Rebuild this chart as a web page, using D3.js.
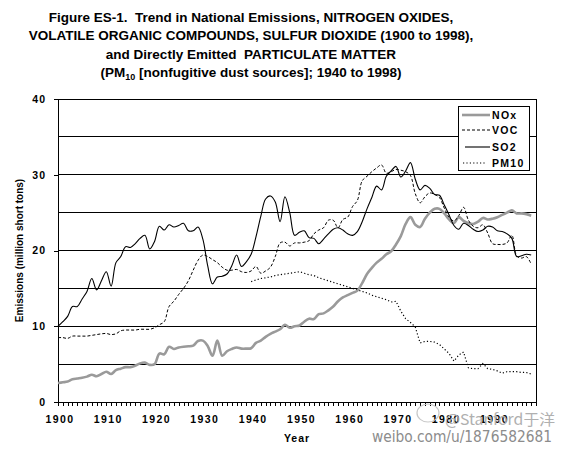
<!DOCTYPE html>
<html><head><meta charset="utf-8">
<script src="https://cdn.jsdelivr.net/npm/d3@7"></script>
<style>body{margin:0;background:#fff} svg{display:block}</style>
</head><body>
<svg id="c" width="564" height="452"></svg>
<script>
// ---- data ----
const years = d3.range(1900, 1999);
const nox = [
 2.5,2.6,2.7,3.0,3.1,3.2,3.35,3.6,3.4,3.7,
 4.0,3.7,4.2,4.4,4.6,4.6,4.8,5.1,5.2,4.9,
 5.0,6.4,6.3,7.3,7.0,7.2,7.3,7.35,7.45,8.05,
 8.1,7.4,6.1,8.1,6.1,6.7,7.0,7.2,7.05,7.05,
 7.1,7.8,8.1,8.6,9.0,9.3,9.6,10.2,9.8,10.0,
 10.1,10.6,11.0,10.95,11.6,11.7,12.1,12.6,13.3,13.8,
 14.1,14.4,14.7,15.7,16.9,17.7,18.4,18.9,19.5,19.9,
 20.8,21.9,23.5,24.4,23.4,23.1,24.2,25.0,25.5,25.5,
 24.9,24.1,23.6,24.4,23.9,23.6,23.5,23.8,24.3,24.1,
 24.2,24.4,24.7,25.0,25.3,24.9,24.9,24.8,24.6];
const voc = [
 8.5,8.5,8.4,8.7,8.7,8.7,8.7,8.8,8.9,9.0,
 9.05,8.9,9.0,9.4,9.5,9.5,9.5,9.6,9.6,9.6,
 9.8,10.2,10.6,12.6,13.3,14.2,15.0,16.0,17.4,18.7,
 19.4,19.2,18.8,18.4,17.8,17.4,17.4,17.5,17.2,17.1,
 17.3,17.9,17.0,17.3,17.8,19.2,21.0,21.1,20.6,21.0,
 21.0,21.1,21.3,22.2,22.7,23.0,24.0,24.0,23.0,24.1,
 24.4,25.8,26.6,29.2,29.8,30.4,30.9,31.3,30.2,30.4,
 30.7,30.6,30.4,29.9,27.5,26.3,27.1,27.6,27.4,27.0,
 25.6,24.4,23.9,24.6,25.7,24.0,23.2,23.0,23.4,22.3,
 20.9,20.8,20.8,21.0,22.0,19.3,19.0,19.2,18.2];
const so2 = [
 10.0,10.6,11.3,12.6,12.6,13.6,14.6,16.3,14.8,16.0,
 17.2,15.3,18.4,19.2,20.5,20.4,20.9,21.6,22.0,20.2,
 21.2,23.2,22.7,23.4,23.1,23.3,23.6,22.6,22.6,23.1,
 21.5,18.0,15.6,16.5,16.6,16.9,18.0,19.4,17.9,18.5,
 19.5,21.8,24.5,26.8,27.2,26.4,23.8,27.1,25.0,22.0,
 22.4,22.6,21.7,21.6,20.9,21.5,22.2,22.8,23.0,22.7,
 22.2,22.0,22.5,23.8,25.5,27.0,28.5,28.0,29.8,30.5,
 31.1,29.7,30.5,31.6,29.4,28.0,28.6,28.2,27.4,27.3,
 26.0,24.7,23.3,22.8,23.6,23.3,22.8,22.5,22.7,23.2,
 23.1,22.6,22.5,22.2,21.6,19.2,19.3,19.5,19.4];
const pmYears = d3.range(1940, 1999);
const pm10 = [
 15.9,16.1,16.3,16.4,16.5,16.7,16.8,16.9,17.0,17.1,
 17.2,17.0,16.8,16.7,16.4,16.2,16.0,15.8,15.6,15.4,
 15.2,15.0,14.8,14.6,14.4,14.1,13.9,13.7,13.5,13.2,
 13.3,12.0,11.0,10.5,9.9,7.8,8.0,8.0,7.9,7.6,
 7.0,6.4,5.4,6.2,6.6,4.5,4.4,4.4,5.1,4.4,
 4.3,4.1,3.8,4.0,4.0,4.0,3.9,3.9,3.7];
const yTickVals = [0,10,20,30,40];
const gridVals = [5,10,15,20,25,30,35];
const xLabelVals = [1900,1910,1920,1930,1940,1950,1960,1970,1980,1990];
const seriesNames = ["NOx","VOC","SO2","PM10"];
const titleLines = [
 "Figure ES-1.\u00A0 Trend in National Emissions, NITROGEN OXIDES,",
 "VOLATILE ORGANIC COMPOUNDS, SULFUR DIOXIDE (1900 to 1998),",
 "and Directly Emitted\u00A0 PARTICULATE MATTER"
];

// ---- drawing ----
const svg = d3.select("#c");
const F = "'Liberation Sans', Arial, sans-serif";
const x = d3.scaleLinear().domain([1900, 1999]).range([58, 536]);
const y = d3.scaleLinear().domain([0, 40]).range([402, 99]);

// title
const tg = svg.append("g").attr("font-family", F).attr("font-weight", "bold")
  .attr("font-size", 13.5).attr("text-anchor", "middle");
titleLines.forEach((t, i) => {
  tg.append("text").attr("x", 251).attr("y", 21.5 + i * 18.5).text(t);
});
const t4 = tg.append("text").attr("x", 251).attr("y", 77);
t4.append("tspan").text("(PM");
t4.append("tspan").attr("font-size", 9).attr("dy", 2.5).text("10");
t4.append("tspan").attr("dy", -2.5).text(" [nonfugitive dust sources]; 1940 to 1998)");

// gridlines
svg.append("g").selectAll("line").data(gridVals).join("line")
  .attr("x1", x(1900)).attr("x2", x(1999))
  .attr("y1", d => y(d)).attr("y2", d => y(d))
  .attr("stroke", "#000").attr("stroke-width", 1).attr("shape-rendering", "crispEdges");

// frame top/right
svg.append("path")
  .attr("d", `M${x(1900)},${y(40)}H${x(1999)}V${y(0)}`)
  .attr("fill", "none").attr("stroke", "#000").attr("shape-rendering", "crispEdges");

// y axis
const yAxis = d3.axisLeft(y).tickValues(yTickVals).tickSize(4).tickPadding(8).tickFormat(d3.format("d"));
const ya = svg.append("g").attr("transform", `translate(${x(1900)},0)`).call(yAxis);
ya.selectAll("path,line").attr("stroke", "#000").attr("shape-rendering", "crispEdges");
ya.selectAll("text").attr("font-family", F).attr("font-weight", "bold").attr("font-size", 10.5)
  .attr("letter-spacing", 1).attr("fill", "#000");

// x axis: yearly ticks
const xAxis = d3.axisBottom(x).tickValues(d3.range(1900, 2000)).tickSize(4).tickFormat("");
const xa = svg.append("g").attr("transform", `translate(0,${y(0)})`).call(xAxis);
xa.selectAll("path,line").attr("stroke", "#000").attr("shape-rendering", "crispEdges");
svg.append("g").selectAll("text").data(xLabelVals).join("text")
  .attr("x", d => x(d) + 2).attr("y", 423).attr("text-anchor", "middle")
  .attr("font-family", F).attr("font-weight", "bold").attr("font-size", 10.5)
  .attr("letter-spacing", 1.4).text(d => d);

// axis titles
svg.append("text").attr("x", 297).attr("y", 442).attr("text-anchor", "middle")
  .attr("font-family", F).attr("font-weight", "bold").attr("font-size", 10.5)
  .attr("letter-spacing", 1).text("Year");
svg.append("text").attr("transform", `translate(23,${(y(0)+y(40))/2}) rotate(-90)`)
  .attr("text-anchor", "middle").attr("font-family", F).attr("font-weight", "bold")
  .attr("font-size", 10).text("Emissions (million short tons)");

// lines
const smooth = d3.line().x(d => x(d[0])).y(d => y(d[1])).curve(d3.curveCatmullRom.alpha(0.5));
const straight = d3.line().x(d => x(d[0])).y(d => y(d[1]));
const styles = {
  NOx: {stroke: "#9a9a9a", width: 2.6, dash: null},
  VOC: {stroke: "#000", width: 1, dash: "3,2"},
  SO2: {stroke: "#000", width: 1.1, dash: null},
  PM10: {stroke: "#000", width: 1.2, dash: "1.2,2.2"}
};
const lg = svg.append("g").attr("fill", "none");
function draw(name, xs, vs, gen) {
  const s = styles[name];
  lg.append("path").datum(xs.map((yr, i) => [yr, vs[i]])).attr("d", gen)
    .attr("stroke", s.stroke).attr("stroke-width", s.width)
    .attr("stroke-dasharray", s.dash).attr("stroke-linejoin", "round");
}
draw("PM10", pmYears, pm10, straight);
draw("NOx", years, nox, smooth);
draw("VOC", years, voc, smooth);
draw("SO2", years, so2, smooth);

// legend
const leg = svg.append("g");
leg.append("rect").attr("x", 458.5).attr("y", 106.5).attr("width", 71).attr("height", 64)
  .attr("fill", "#fff").attr("stroke", "#000");
const ly = [115, 130, 147, 163];
const lx1 = [462, 462, 465, 463], lx2 = [490, 490, 490, 486];
seriesNames.forEach((n, i) => {
  const s = styles[n];
  leg.append("line").attr("x1", lx1[i]).attr("x2", lx2[i]).attr("y1", ly[i]).attr("y2", ly[i])
    .attr("stroke", s.stroke).attr("stroke-width", s.width).attr("stroke-dasharray", s.dash);
  leg.append("text").attr("x", 492).attr("y", ly[i] + 3.8).attr("font-family", F)
    .attr("font-weight", "bold").attr("font-size", 10.5).attr("letter-spacing", 1.3).text(n);
});

// watermark
const wm = svg.append("g").attr("font-family", "'DejaVu Sans', sans-serif");
wm.append("ellipse").attr("cx", 428).attr("cy", 413).attr("rx", 11).attr("ry", 9)
  .attr("fill", "none").attr("stroke", "#c8c8c8").attr("stroke-width", 1.2);
wm.append("text").attr("x", 445).attr("y", 425).attr("font-size", 15).attr("fill", "#b0b0b0")
  .attr("textLength", 110).attr("lengthAdjust", "spacingAndGlyphs")
  .attr("font-family", "'Noto Sans CJK SC', 'DejaVu Sans', sans-serif").text("@Stanford于洋");
wm.append("text").attr("x", 372).attr("y", 442).attr("font-size", 15).attr("fill", "#8c8c8c")
  .attr("textLength", 180).attr("lengthAdjust", "spacingAndGlyphs").text("weibo.com/u/1876582681");
</script>
</body></html>
